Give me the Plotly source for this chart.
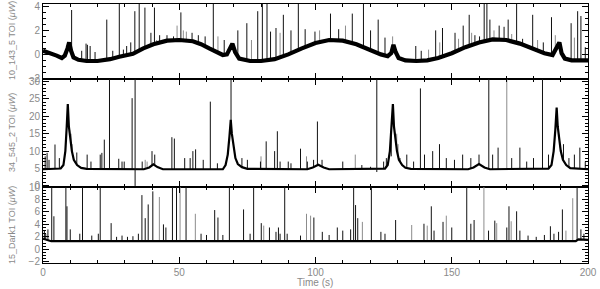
import numpy as np
import plotly.graph_objects as go
from plotly.subplots import make_subplots

# ---------------- data ----------------
TIME_TICKS = [0, 50, 100, 150, 200]

# Panel 1: 10_143_5 baseline (band centre)
TOP_BASE_T = [0, 3, 5, 6.9, 8, 9, 9.6, 10.3, 11.2, 13, 16, 20, 24.6, 28, 33, 36.8, 40.5, 45.5, 50, 55, 58, 61,
              64, 66, 67.5, 68.8, 69.5, 70.5, 72, 76, 80, 85, 90, 95, 100, 105, 110, 115, 120, 124, 126.5,
              127.8, 128.6, 129.4, 130.5, 133, 137, 141, 145, 150, 155, 160, 165, 170, 175, 180, 184, 187,
              188.6, 189.5, 190.3, 191.5, 194, 200]
TOP_BASE_V = [0.3, 0.1, -0.1, -0.3, -0.1, 0.5, 1.0, 0.3, -0.25, -0.45, -0.55, -0.55, -0.4, -0.2, 0.05, 0.5,
              0.85, 1.15, 1.2, 1.1, 0.85, 0.5, 0.15, -0.05, 0.0, 0.6, 0.9, 0.2, -0.35, -0.55, -0.55, -0.4,
              0.0, 0.5, 0.95, 1.2, 1.15, 0.85, 0.35, 0.0, -0.15, 0.1, 0.8, 0.2, -0.3, -0.5, -0.55, -0.5,
              -0.3, 0.1, 0.6, 1.0, 1.25, 1.2, 0.9, 0.45, 0.1, -0.05, 0.6, 1.0, 0.1, -0.35, -0.5, -0.5]
TOP_SPIKE_T = [10.5, 14.2, 15.8, 16.3, 17.3, 19.1, 23.4, 25.6, 28.0, 29.5, 30.7, 32.2, 33.7, 35.3, 37.4,
               39.6, 40.9, 42.8, 45.5, 47.9, 50.6, 54.7, 57, 59.5, 62.5, 66.5, 71.5, 74.8, 78.8, 80.5,
               82.2, 83.5, 85.5, 88.2, 91, 93.7, 96.2, 99.8, 105.5, 108.5, 113.5, 117.6, 120.2, 123,
               125.5, 136.8, 138.8, 144.1, 146.6, 151.2, 154.2, 156.4, 158.5, 160.2, 161.9, 162.9, 164,
               167.4, 169.2, 170.7, 173.8, 176, 179.7, 183.6, 186.6, 193.8, 196.2, 197.4, 199]
TOP_SPIKE_V = [3.7, 0.3, 0.9, 0.8, 0.7, 0.2, 2.9, 0.3, 5, 0.4, 0.7, 1.0, 3.6, 5, 3.9, 1.8, 3.9, 1.6, 1.6,
               1.5, 3.5, 1.8, 1.6, 1.5, 5, 1.2, 2.0, 2.6, 3.6, 5, 5, 1.9, 2.2, 3.3, 2.0, 5, 2.1, 1.9, 3.4,
               2.1, 3.4, 5, 2.0, 2.9, 1.4, 0.7, 0.3, 2.0, 2.2, 1.8, 2.4, 3.3, 1.6, 1.5, 5, 5, 2.9, 2.4,
               2.3, 2.9, 5, 1.3, 3.3, 1.0, 3.1, 2.6, 3.6, 3.2, 0.6]
TOP_GSPIKE_T = [41.7, 49.2, 51.5, 52.6, 64.2, 76.5, 87.0, 101.5, 111.0, 128.3, 141.5, 145.6, 152.5, 157.3,
                165.5, 172.0, 181.5, 188.0, 195.0]
TOP_GSPIKE_V = [1.2, 2.4, 2.0, 1.9, 1.5, 1.2, 1.8, 2.0, 2.4, 1.5, 0.4, 1.0, 1.3, 1.8, 2.0, 1.7, 1.2, 1.6, 1.4]

# Panel 2: 34_545_2
MID_BASE_T = [0, 6.5, 7.5, 8.2, 8.7, 9.1, 9.5, 10.0, 10.6, 11.3, 12.5, 14, 16, 37, 39, 40.5, 42, 44, 66,
              67, 67.8, 68.4, 68.9, 69.3, 69.9, 70.6, 71.5, 73, 75, 97, 99, 101, 103, 105, 125.5, 126.5,
              127.3, 127.9, 128.4, 128.8, 129.3, 129.9, 130.6, 131.8, 133, 135, 156, 158, 160, 162, 164,
              185.5, 186.6, 187.4, 188.0, 188.5, 188.9, 189.4, 190.0, 190.8, 192, 193.5, 200]
MID_BASE_V = [4.8, 5.0, 6.0, 10, 17, 23.5, 17, 13, 10, 7.5, 6.0, 5.2, 4.9, 4.8, 5.3, 6.2, 5.4, 4.8, 4.8,
              6.0, 9, 14, 19, 15, 11, 8, 6.3, 5.4, 4.9, 4.8, 5.3, 6.1, 5.3, 4.8, 5.0, 6.0, 10, 17, 23.5,
              17, 13, 10, 7.5, 6.0, 5.2, 4.9, 4.8, 5.3, 6.3, 5.3, 4.8, 5.0, 6.0, 10, 16, 22.5, 17, 13,
              10, 7.5, 6.0, 5.1, 4.8]
MID_SPIKE_T = [0.8, 1.5, 2.2, 4.4, 6.0, 12.4, 16.2, 17.6, 21.0, 21.6, 22.5, 24.4, 27.8, 29.0, 29.8, 32.7,
               36.4, 40.0, 41.0, 47.3, 48.2, 52.0, 54.0, 55.0, 56.0, 58.8, 61.4, 64.0, 69.0, 71.0, 73.0,
               75.0, 79.8, 81.9, 85.0, 86.0, 87.0, 90.0, 91.0, 94.5, 97.0, 99.3, 100.7, 102.4, 110.0,
               117.0, 120.2, 125.0, 126.0, 127.8, 131.0, 133.5, 136.0, 138.5, 140.0, 143.0, 145.5, 148.0,
               151.0, 154.0, 157.0, 160.0, 163.6, 165.0, 167.0, 172.0, 175.0, 177.5, 180.0, 183.3, 185.5,
               191.0, 193.0, 195.0, 197.0, 199.0]
MID_SPIKE_V = [8.5, 9.5, 7.5, 11.9, 8, 9.6, 9, 7, 9, 9.5, 13.3, 40, 7.8, 7, 7, 25.2, 7, 10, 9, 14, 13.6,
               8, 8, 10, 10.5, 7.5, 24.2, 6.5, 40, 7, 8, 7.5, 7, 12.8, 10, 15.7, 7, 7, 6.5, 10.7, 7, 7.5,
               18.5, 7.5, 7, 6, 5.5, 7, 8, 8.5, 8, 9, 7, 28, 9, 10, 12, 8, 7.5, 9, 8, 9, 40, 9, 11, 8,
               11, 7, 8, 40, 9, 12, 8, 9, 11, 7]
MID_GSPIKE_T = [9.8, 10.3, 10.7, 37.5, 38.2, 80.0, 96.7, 114.6, 129.8, 130.3, 170.2, 189.3, 189.8]
MID_GSPIKE_V = [16, 15, 12, 7.5, 7.0, 8.5, 8.5, 9, 15, 12, 40, 15, 12]
MID_DEEP_T = [33.8, 122.5]      # glitches reaching below the baseline
MID_DEEP_LO = [0.0, 4.0]

# Panel 3: 15_Dark1
BOT_BASE_T = [0, 1.5, 3, 100, 195.5, 196.5, 200]
BOT_BASE_V = [1.7, 1.5, 1.3, 1.3, 1.3, 1.6, 1.5]
BOT_SPIKE_T = [3.2, 8.4, 14.5, 21, 47.5, 49, 52.5, 68.4, 77.3, 88.7, 114, 120.5, 155.5, 196,
               0.5, 1.0, 1.8, 4.0, 8.8, 10.0, 13.5, 17.9, 20.3, 25.0, 27.0, 29.0, 31.0, 33.0, 35.0, 36.3,
               37.5, 38.6, 40.3, 44.2, 45.1, 58.0, 60.0, 63.0, 64.2, 66.0, 73.6, 76.0, 80.1, 83.1, 85.5,
               86.4, 87.0, 89.6, 94.5, 99.4, 102.5, 105.0, 108.0, 110.0, 112.9, 114.7, 115.5, 124.0,
               125.5, 129.4, 139.8, 142.5, 143.5, 146.8, 150.0, 157.0, 158.2, 163.5, 165.8, 170.2, 171.0,
               173.8, 175.0, 178.0, 181.0, 184.0, 186.2, 187.5, 189.2, 190.6, 197.4, 198.5]
BOT_SPIKE_V = [15, 15, 15, 15, 15, 15, 15, 15, 15, 15, 15, 15, 15, 15,
               3, 2.5, 3.2, 5.3, 6.9, 3.2, 2.5, 2.2, 2.5, 4.2, 2, 2.2, 2, 2.1, 2.5, 8.7, 5, 7.2, 9.3, 4,
               3.5, 2.5, 2.3, 6.3, 5.1, 2.3, 6.4, 2.5, 4.2, 3.5, 2.8, 3.5, 2.5, 2.5, 2.2, 5.1, 2.8, 2.3,
               3.5, 3, 3.2, 7.1, 5, 2.8, 2.5, 4.7, 4.1, 6.9, 3, 4.4, 3.5, 4.1, 4.7, 3, 4.6, 3.5, 6.9, 6.1,
               3, 2.2, 2, 2.3, 3.7, 2.5, 2.8, 6.4, 3.2, 2.5]
BOT_GSPIKE_T = [50.3, 161.8, 42.7, 55.9, 81.0, 96.7, 98.2, 117.2, 135.3, 141.0, 148.0, 166.5, 171.8,
                191.9, 194.4]
BOT_GSPIKE_V = [15, 15, 8.4, 5.7, 3.8, 5.7, 5.4, 4.4, 3.9, 3.8, 5.4, 4.2, 4.5, 3.0, 8.2]

Y_TITLES = ["10_143_5 TOI (<i>\u03bcW</i>)", "34_545_2 TOI (<i>\u03bcW</i>)", "15_Dark1 TOI (<i>\u03bcW</i>)"]
X_TITLE = "Time (s)"

# ---------------- figure ----------------
fig = make_subplots(rows=3, cols=1, shared_xaxes=True, vertical_spacing=0)


def spikes(ts, vs, base_t, base_v, lows=None):
    xs, ys = [], []
    for i, (t, v) in enumerate(zip(ts, vs)):
        lo = lows[i] if lows is not None else float(np.interp(t, base_t, base_v))
        xs += [t, t, None]
        ys += [lo, v, None]
    return xs, ys


panels = [
    (TOP_BASE_T, TOP_BASE_V, TOP_SPIKE_T, TOP_SPIKE_V, TOP_GSPIKE_T, TOP_GSPIKE_V, 4.2),
    (MID_BASE_T, MID_BASE_V, MID_SPIKE_T, MID_SPIKE_V, MID_GSPIKE_T, MID_GSPIKE_V, 2.2),
    (BOT_BASE_T, BOT_BASE_V, BOT_SPIKE_T, BOT_SPIKE_V, BOT_GSPIKE_T, BOT_GSPIKE_V, 2.2),
]

for r, (bt, bv, st, sv, gt, gv, bw) in enumerate(panels, start=1):
    gx, gy = spikes(gt, gv, bt, bv)
    fig.add_trace(go.Scatter(x=gx, y=gy, mode="lines", line=dict(color="#8c8c8c", width=1),
                             hoverinfo="skip", showlegend=False), row=r, col=1)
    sx, sy = spikes(st, sv, bt, bv)
    fig.add_trace(go.Scatter(x=sx, y=sy, mode="lines", line=dict(color="#111111", width=1),
                             hoverinfo="skip", showlegend=False), row=r, col=1)
    fig.add_trace(go.Scatter(x=bt, y=bv, mode="lines", line=dict(color="#000000", width=bw),
                             hoverinfo="skip", showlegend=False), row=r, col=1)

dx, dy = spikes(MID_DEEP_T, [40] * len(MID_DEEP_T), None, None, lows=MID_DEEP_LO)
fig.add_trace(go.Scatter(x=dx, y=dy, mode="lines", line=dict(color="#111111", width=1),
                         hoverinfo="skip", showlegend=False), row=2, col=1)

W, H = 600, 289
L, R, T, B = 43, 12, 4, 26
ph = H - T - B
py = lambda p: (H - B - p) / ph  # pixel -> paper y
doms = [[py(79), 1.0], [py(187), py(79)], [0.0, py(187)]]

tickfont = dict(family="Liberation Sans", size=10, color="#8a8a8a")
common = dict(showline=True, linecolor="black", linewidth=1, mirror="ticks", ticks="inside",
              tickcolor="black", showgrid=False, zeroline=False, tickfont=tickfont, automargin=False)

yspec = [
    dict(range=[-2.05, 4.2], tickvals=[-2, 0, 2, 4], minor=dict(dtick=0.5, tick0=0, ticks="inside", ticklen=3, tickcolor="black")),
    dict(range=[-0.3, 30.7], tickvals=[0, 5, 10, 15, 20, 25, 30], minor=dict(dtick=1, tick0=0, ticks="inside", ticklen=3, tickcolor="black")),
    dict(range=[-2.2, 10.0], tickvals=[-2, 0, 2, 4, 6, 8, 10], minor=dict(dtick=0.5, tick0=0, ticks="inside", ticklen=3, tickcolor="black")),
]
for i in range(3):
    fig.update_yaxes(row=i + 1, col=1, domain=doms[i], ticklen=6, ticklabeloverflow="allow",
                     **common, **yspec[i])
    fig.update_xaxes(row=i + 1, col=1, range=[0, 200], tickvals=TIME_TICKS, ticklen=6,
                     showticklabels=(i == 2),
                     minor=dict(dtick=10, tick0=0, ticks="inside", ticklen=3, tickcolor="black"),
                     **common)

centers = [41, 133, 225]
ann = []
for txt, c in zip(Y_TITLES, centers):
    ann.append(dict(text=txt, x=(12 - L) / (W - L - R), y=py(c), xref="paper", yref="paper",
                    textangle=-90, showarrow=False, xanchor="center", yanchor="middle",
                    font=dict(family="Liberation Sans", size=9, color="#8a8a8a")))
ann.append(dict(text=X_TITLE, x=(315 - L) / (W - L - R), y=py(282), xref="paper", yref="paper",
                showarrow=False, xanchor="center", yanchor="middle",
                font=dict(family="Liberation Sans", size=10, color="#8a8a8a")))

fig.update_layout(width=W, height=H, margin=dict(l=L, r=R, t=T, b=B), plot_bgcolor="white",
                  paper_bgcolor="white", annotations=ann, showlegend=False)

fig.write_html("out.html", config={"displayModeBar": False},
               post_script="document.body.style.margin='0';document.body.style.overflow='hidden';")
